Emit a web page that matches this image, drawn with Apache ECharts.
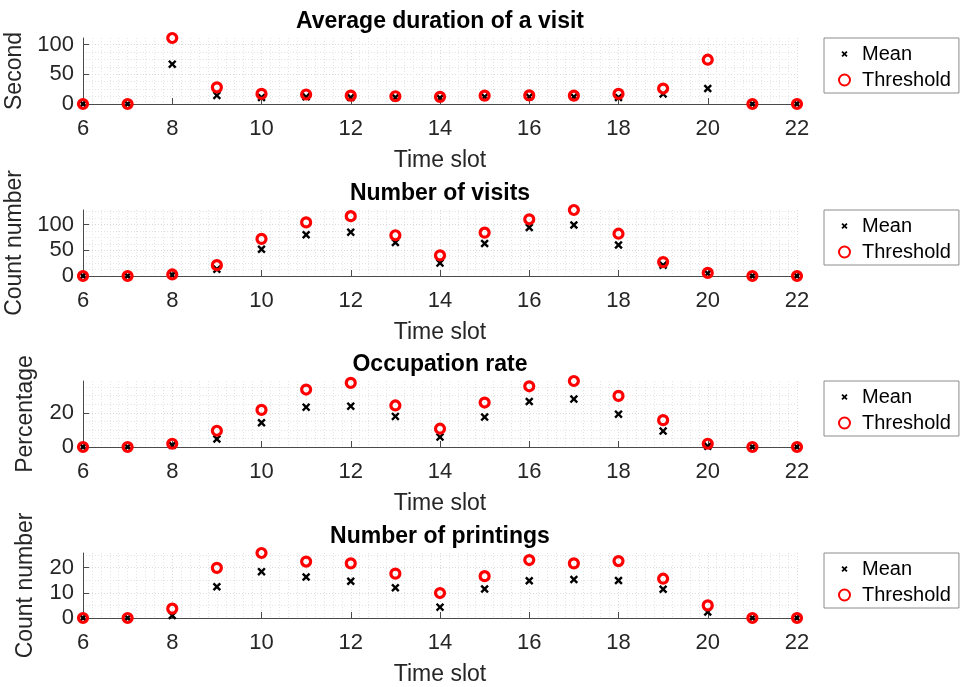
<!DOCTYPE html>
<html>
<head>
<meta charset="utf-8">
<script src="https://cdn.jsdelivr.net/npm/echarts@6/dist/echarts.min.js"></script>
<style>
html,body{margin:0;padding:0;background:#fff;}
#chart{width:960px;height:687px;}
</style>
</head>
<body>
<div id="chart"></div>
<script>
// ---- data ----
const timeSlots = [6,7,8,9,10,11,12,13,14,15,16,17,18,19,20,21,22];
const xTicks = [6,8,10,12,14,16,18,20,22];

const durationMean      = [0,0,67,14.5,11,12,11,11,10,12,12,12,11,17,26,0,0];
const durationThreshold = [0,0,111,28,17,16,14,13,12,14,14.5,14,17,26,74.5,0,0];

const visitsMean        = [0,0,2,13,52,80,85,65,25,63,94,99,60,21,5,0,0];
const visitsThreshold   = [0,0,3,21,72,104,116,79,40,84,110,128,82,27,6,0,0];

const occupationMean      = [0,0,1,4.7,14.2,23.3,23.9,17.9,5.8,17.5,26.6,28,19.2,9.3,0.4,0,0];
const occupationThreshold = [0,0,1.9,9.5,21.7,33.6,37.5,24.3,10.7,26,35.5,38.6,29.9,15.7,1.9,0,0];

const printingsMean      = [0,0,1,12.4,18.4,16.3,14.6,12,4.3,11.5,14.8,15.3,14.9,11.4,2.4,0,0];
const printingsThreshold = [0,0,3.7,19.9,25.8,22.4,21.7,17.6,9.9,16.6,23,21.7,22.6,15.6,5,0,0];

const panelTitles = ['Average duration of a visit','Number of visits','Occupation rate','Number of printings'];
const yNames = ['Second','Count number','Percentage','Count number'];
const yTicks = [[0,50,100],[0,50,100],[0,20],[0,10,20]];
const legendNames = ['Mean','Threshold'];
const xName = 'Time slot';

// ---- layout ----
const FONT = "'Liberation Sans', Arial, Helvetica, sans-serif";
const panels = [
  {mean: durationMean, thr: durationThreshold, top: 38, height: 66, interval: 50, minor: 4},
  {mean: visitsMean, thr: visitsThreshold, top: 210, height: 66, interval: 50, minor: 4},
  {mean: occupationMean, thr: occupationThreshold, top: 381, height: 66, interval: 20, minor: 4},
  {mean: printingsMean, thr: printingsThreshold, top: 553, height: 65, interval: 10, minor: 2}
];
const GL = 83, GR = 163;
const xPath = 'path://M0,2 L2,0 L5,3 L8,0 L10,2 L7,5 L10,8 L8,10 L5,7 L2,10 L0,8 L3,5 Z';
const xPathLegend = 'path://M-4,-4 M14,14 M0,2 L2,0 L5,3 L8,0 L10,2 L7,5 L10,8 L8,10 L5,7 L2,10 L0,8 L3,5 Z';

const grids = [], xAxes = [], yAxes = [], series = [], titles = [], legends = [];
panels.forEach((p, i) => {
  grids.push({left: GL, right: GR, top: p.top, height: p.height, containLabel: false, outerBoundsMode: 'none'});
  titles.push({
    text: panelTitles[i],
    left: (GL + (960 - GR)) / 2, textAlign: 'center',
    top: p.top - 28, padding: 0,
    textStyle: {fontFamily: FONT, fontSize: 23, fontWeight: 'bold', color: '#000'}
  });
  xAxes.push({
    type: 'value', gridIndex: i, min: 6, max: 22, interval: 2,
    name: xName, nameLocation: 'middle', nameGap: 45,
    nameTextStyle: {fontFamily: FONT, fontSize: 23, color: '#262626'},
    axisLine: {show: true, onZero: false, lineStyle: {color: '#4a4a4a', width: 1}},
    axisTick: {show: true, inside: true, length: 6, lineStyle: {color: '#4a4a4a'}},
    axisLabel: {fontFamily: FONT, fontSize: 22, color: '#262626', margin: 14},
    splitLine: {show: true, lineStyle: {color: '#dadada', type: [1, 2], width: 1}},
    minorTick: {show: false, splitNumber: 10},
    minorSplitLine: {show: true, lineStyle: {color: '#e4e4e4', type: [1, 2], width: 1}}
  });
  yAxes.push({
    type: 'value', gridIndex: i, min: 0, max: v => v.max, interval: p.interval,
    name: yNames[i], nameLocation: 'middle', nameGap: 46,
    nameTextStyle: {fontFamily: FONT, fontSize: 23, color: '#262626'},
    axisLine: {show: true, lineStyle: {color: '#4a4a4a', width: 1}},
    axisTick: {show: true, inside: true, length: 6, lineStyle: {color: '#4a4a4a'}, customValues: yTicks[i]},
    axisLabel: {fontFamily: FONT, fontSize: 22, color: '#262626', margin: 9, customValues: yTicks[i]},
    splitLine: {show: true, lineStyle: {color: '#dadada', type: [1, 2], width: 1}},
    minorTick: {show: false, splitNumber: p.minor},
    minorSplitLine: {show: true, lineStyle: {color: '#e4e4e4', type: [1, 2], width: 1}}
  });
  series.push({
    type: 'scatter', name: legendNames[0], xAxisIndex: i, yAxisIndex: i,
    data: timeSlots.map((t, k) => [t, p.mean[k]]),
    symbol: xPath, symbolSize: 8.5, clip: false,
    itemStyle: {color: '#000', opacity: 1}, z: 3
  });
  series.push({
    type: 'scatter', name: legendNames[1], xAxisIndex: i, yAxisIndex: i,
    data: timeSlots.map((t, k) => [t, p.thr[k]]),
    symbol: 'circle', symbolSize: 9, clip: false,
    itemStyle: {color: 'rgba(0,0,0,0)', borderColor: '#ff0000', borderWidth: 3.2, opacity: 1}, z: 4
  });
  legends.push({
    orient: 'vertical', left: 824, top: p.top,
    padding: [6, 8, 3, 14], itemGap: 6, itemWidth: 25, itemHeight: 11,
    borderColor: '#8c8c8c', borderWidth: 1, backgroundColor: '#fff',
    selectedMode: false,
    textStyle: {fontFamily: FONT, fontSize: 20, color: '#000'},
    data: [{name: legendNames[0], icon: xPathLegend}, {name: legendNames[1], icon: 'circle'}]
  });
});

const chart = echarts.init(document.getElementById('chart'), null, {renderer: 'canvas'});
chart.setOption({
  animation: false,
  backgroundColor: '#fff',
  title: titles,
  grid: grids,
  xAxis: xAxes,
  yAxis: yAxes,
  legend: legends,
  series: series
});
</script>
</body>
</html>
